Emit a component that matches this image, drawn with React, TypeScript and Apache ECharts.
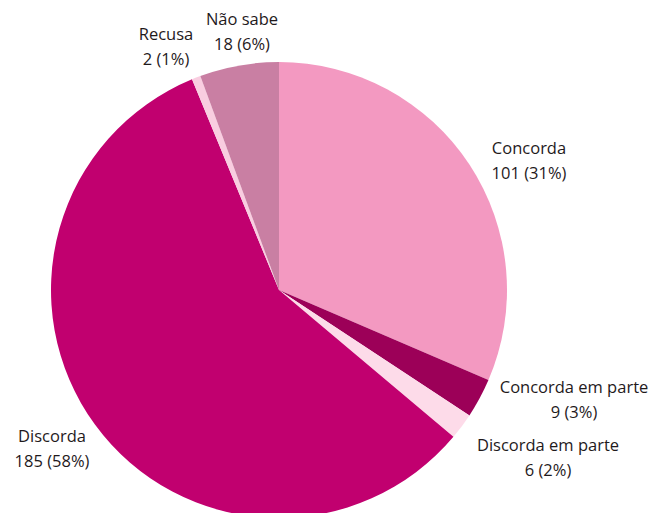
import React, { useEffect, useRef } from "react";
import * as echarts from "echarts";

const categories = ["Concorda", "Concorda em parte", "Discorda em parte", "Discorda", "Recusa", "Não sabe"];
const values = [101, 9, 6, 185, 2, 18];
const colors = ["#F399C1", "#9C0058", "#FDDBE9", "#C1006F", "#F9CDE0", "#C97FA3"];
const labelPos: [number, number][] = [
  [529, 160],
  [574, 399],
  [548, 457],
  [52, 448],
  [166, 46],
  [242, 31],
];

export default function App() {
  const ref = useRef<HTMLDivElement>(null);
  useEffect(() => {
    document.body.style.margin = "0";
    const chart = echarts.init(ref.current!, null, { renderer: "svg" });
    const total = values.reduce((a, b) => a + b, 0);
    chart.setOption({
      animation: false,
      backgroundColor: "#ffffff",
      series: [
        {
          type: "pie",
          center: [279, 290],
          radius: 228,
          startAngle: 90,
          clockwise: true,
          silent: true,
          data: categories.map((name, i) => ({
            name,
            value: values[i],
            itemStyle: { color: colors[i] },
          })),
          label: {
            show: true,
            position: "outside",
            formatter: (p: any) =>
              `${p.name}\n${p.value} (${Math.round((p.value / total) * 100)}%)`,
            color: "#1F1A1C",
            fontFamily: "Open Sans",
            fontSize: 16.5,
            lineHeight: 25,
            align: "center",
            overflow: "none",
            width: 300,
          },
          labelLine: { show: false },
          labelLayout: (params: any) => ({
            x: labelPos[params.dataIndex][0],
            y: labelPos[params.dataIndex][1],
            align: "center",
            verticalAlign: "middle",
          }),
        },
      ],
    });
    return () => chart.dispose();
  }, []);
  return <div ref={ref} style={{ width: 653, height: 513 }} />;
}
